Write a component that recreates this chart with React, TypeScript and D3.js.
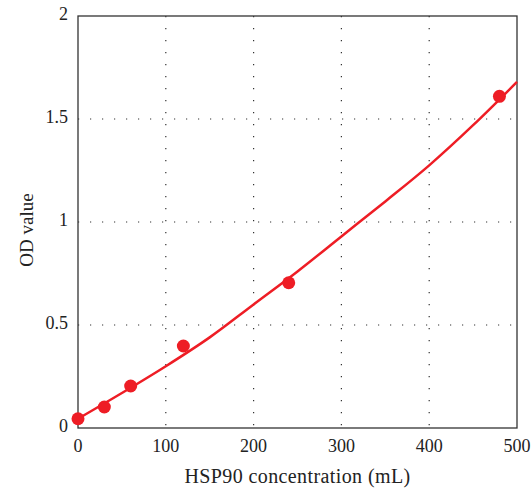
import React, { useRef, useEffect } from "react";
import * as d3 from "d3";

// measured points
const concX = [0, 30, 60, 120, 240, 480];
const odY = [0.045, 0.102, 0.204, 0.398, 0.705, 1.61];

// fitted curve
const fitX = [0, 50, 100, 150, 200, 250, 300, 350, 400, 450, 500];
const fitY = [0.045, 0.17, 0.3, 0.44, 0.6, 0.76, 0.93, 1.1, 1.275, 1.47, 1.68];

const xTicks = [0, 100, 200, 300, 400, 500];
const yTicks = [0, 0.5, 1, 1.5, 2];

const RED = "#ee1d25";
const FONT = "'Liberation Serif', 'Times New Roman', serif";

const App = () => {
  const svgRef = useRef<SVGSVGElement>(null);

  useEffect(() => {
    const W = 531;
    const H = 489;
    const margin = { top: 16, right: 14, bottom: 61, left: 78 };
    const width = W - margin.left - margin.right;
    const height = H - margin.top - margin.bottom;

    const svg = d3.select(svgRef.current);
    svg.selectAll("*").remove();

    const g = svg
      .append("g")
      .attr("transform", "translate(" + margin.left + "," + margin.top + ")");

    const x = d3.scaleLinear().domain([0, 500]).range([0, width]);
    const y = d3.scaleLinear().domain([0, 2]).range([height, 0]);

    // dotted grid
    g.selectAll(".vgrid")
      .data(xTicks.slice(1, -1))
      .enter()
      .append("line")
      .attr("x1", (d) => x(d))
      .attr("x2", (d) => x(d))
      .attr("y1", 0)
      .attr("y2", height)
      .attr("stroke", "#333")
      .attr("stroke-width", 1.2)
      .attr("stroke-dasharray", "1.2,10.8");

    g.selectAll(".hgrid")
      .data(yTicks.slice(1, -1))
      .enter()
      .append("line")
      .attr("x1", 0)
      .attr("x2", width)
      .attr("y1", (d) => y(d))
      .attr("y2", (d) => y(d))
      .attr("stroke", "#333")
      .attr("stroke-width", 1.2)
      .attr("stroke-dasharray", "1.2,10.8");

    // frame
    g.append("rect")
      .attr("x", 0)
      .attr("y", 0)
      .attr("width", width)
      .attr("height", height)
      .attr("fill", "none")
      .attr("stroke", "#333")
      .attr("stroke-width", 1.3);

    // tick labels
    g.selectAll(".xlab")
      .data(xTicks)
      .enter()
      .append("text")
      .attr("x", (d) => x(d))
      .attr("y", height + 24)
      .attr("text-anchor", "middle")
      .attr("font-family", FONT)
      .attr("font-size", 18)
      .attr("fill", "#222")
      .text((d) => d);

    g.selectAll(".ylab")
      .data(yTicks)
      .enter()
      .append("text")
      .attr("x", -10)
      .attr("y", (d) => y(d) + 4)
      .attr("text-anchor", "end")
      .attr("font-family", FONT)
      .attr("font-size", 18)
      .attr("fill", "#222")
      .text((d) => d);

    // axis titles
    svg
      .append("text")
      .attr("x", margin.left + width / 2)
      .attr("y", 483)
      .attr("text-anchor", "middle")
      .attr("font-family", FONT)
      .attr("font-size", 20)
      .attr("letter-spacing", 0.4)
      .attr("fill", "#222")
      .text("HSP90 concentration (mL)");

    svg
      .append("text")
      .attr("transform", "translate(33," + (margin.top + height / 2 + 8) + ") rotate(-90)")
      .attr("text-anchor", "middle")
      .attr("font-family", FONT)
      .attr("font-size", 19)
      .attr("fill", "#222")
      .text("OD value");

    // fit curve
    const line = d3
      .line<number>()
      .x((d, i) => x(fitX[i]))
      .y((d) => y(d))
      .curve(d3.curveMonotoneX);

    g.append("path")
      .datum(fitY)
      .attr("d", line)
      .attr("fill", "none")
      .attr("stroke", RED)
      .attr("stroke-width", 2.5);

    // points
    g.selectAll(".pt")
      .data(odY)
      .enter()
      .append("circle")
      .attr("cx", (d, i) => x(concX[i]))
      .attr("cy", (d) => y(d))
      .attr("r", 6.5)
      .attr("fill", RED);
  }, []);

  return (
    <svg
      ref={svgRef}
      width={531}
      height={489}
      style={{ position: "absolute", left: 0, top: 0, background: "#fff" }}
    ></svg>
  );
};

export default App;
